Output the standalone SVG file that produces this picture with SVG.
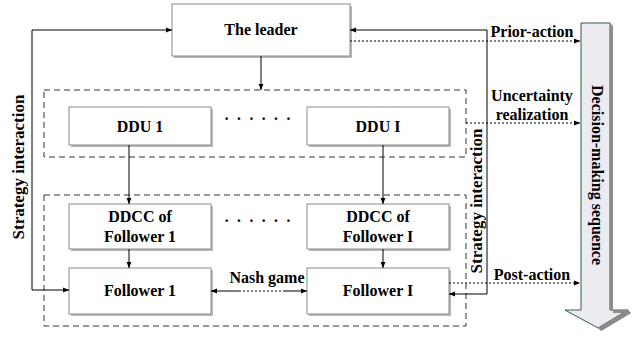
<svg xmlns="http://www.w3.org/2000/svg" width="644" height="337" viewBox="0 0 644 337">
<style>
.t{font-family:"Liberation Serif","Times New Roman",serif;font-weight:bold;font-size:16px;fill:#000;text-anchor:middle}
.box{fill:#fff;stroke:#8a8a8a;stroke-width:1}
.sh{fill:#b8b8b8}
.dash{fill:none;stroke:#333;stroke-width:1;stroke-dasharray:6,4}
.ln{fill:none;stroke:#000;stroke-width:1}
.dot{fill:none;stroke:#000;stroke-width:1;stroke-dasharray:2,2}
</style>
<defs>
<marker id="ah" viewBox="0 0 10 10" refX="10" refY="5" markerWidth="6" markerHeight="6" orient="auto-start-reverse" markerUnits="userSpaceOnUse">
<path d="M0,1 L10,5 L0,9 z" fill="#000"/>
</marker>
</defs>
<rect width="644" height="337" fill="#fff"/>
<g id="groups">
<rect class="dash" x="44" y="90" width="422" height="67"/>
<rect class="dash" x="44" y="195" width="422" height="131"/>
</g>
<g id="leader">
<rect class="sh" x="174" y="6" width="178" height="52"/>
<rect class="box" x="172" y="4" width="178" height="52"/>
<text class="t" x="261" y="35">The leader</text>
</g>
<g id="ddu1">
<rect class="sh" x="71" y="109" width="142" height="38"/>
<rect class="box" x="69" y="107" width="142" height="38"/>
<text class="t" x="140" y="132">DDU 1</text>
</g>
<g id="dduI">
<rect class="sh" x="309" y="109" width="142" height="38"/>
<rect class="box" x="307" y="107" width="142" height="38"/>
<text class="t" x="378" y="132">DDU I</text>
</g>
<g id="ddcc1">
<rect class="sh" x="71" y="206" width="142" height="45"/>
<rect class="box" x="69" y="204" width="142" height="45"/>
<text class="t" x="140" y="222">DDCC of</text>
<text class="t" x="140" y="242">Follower 1</text>
</g>
<g id="ddccI">
<rect class="sh" x="309" y="206" width="142" height="45"/>
<rect class="box" x="307" y="204" width="142" height="45"/>
<text class="t" x="378" y="222">DDCC of</text>
<text class="t" x="378" y="242">Follower I</text>
</g>
<g id="follower1">
<rect class="sh" x="71" y="270" width="142" height="46"/>
<rect class="box" x="69" y="268" width="142" height="46"/>
<text class="t" x="140" y="296">Follower 1</text>
</g>
<g id="followerI">
<rect class="sh" x="309" y="270" width="142" height="46"/>
<rect class="box" x="307" y="268" width="142" height="46"/>
<text class="t" x="378" y="296">Follower I</text>
</g>
<g id="dots">
<text class="t" x="261" y="124" letter-spacing="7">······</text>
<text class="t" x="261" y="226" letter-spacing="7">······</text>
</g>
<g id="sequence-arrow">
<path d="M584,26 L613,26 L613,313 L631,313 L601,331 L610,313 Z" fill="#8c8c8c"/>
<path d="M581,23 L610,23 L610,310 L628,310 L598,328 L565,310 L581,310 Z" fill="#ecebf2" stroke="#2f5f3c" stroke-width="1"/>
<path d="M610,23 L613,26 L613,313 L631,313 L628,310 L610,310 Z" fill="#8c8c8c"/>
<path d="M628,310 L631,313 L601,331 L598,328 Z" fill="#8c8c8c"/>
<text class="t" x="0" y="0" transform="translate(592,175) rotate(90)">Decision-making sequence</text>
</g>
<g id="connectors">
<path class="ln" d="M261,56 V90" marker-end="url(#ah)"/>
<path class="ln" d="M129,145 V204" marker-end="url(#ah)"/>
<path class="ln" d="M383,145 V204" marker-end="url(#ah)"/>
<path class="ln" d="M129,249 V268" marker-end="url(#ah)"/>
<path class="ln" d="M383,249 V268" marker-end="url(#ah)"/>
<path class="ln" d="M32,290 V30 H172" marker-end="url(#ah)"/>
<path class="ln" d="M32,290 H69" marker-end="url(#ah)"/>
<path class="ln" d="M487,294 V30 H350" marker-end="url(#ah)"/>
<path class="ln" d="M487,294 H449" marker-end="url(#ah)"/>
<path class="ln" d="M211,291 H239" marker-start="url(#ah)"/>
<path class="dot" d="M239,291 H285"/>
<path class="ln" d="M285,291 H307" marker-end="url(#ah)"/>
<path class="dot" d="M350,41 H580" marker-end="url(#ah)"/>
<path class="dot" d="M466,123 H580" marker-end="url(#ah)"/>
<path class="dot" d="M449,283 H580" marker-end="url(#ah)"/>
</g>
<g id="labels">
<text class="t" x="532" y="37">Prior-action</text>
<text class="t" x="532" y="101">Uncertainty</text>
<text class="t" x="532" y="120">realization</text>
<text class="t" x="532" y="280">Post-action</text>
<text class="t" x="267" y="283">Nash game</text>
<text class="t" style="font-size:17px" transform="translate(24,167) rotate(-90)">Strategy interaction</text>
<text class="t" style="font-size:17px" transform="translate(482,201) rotate(-90)">Strategy interaction</text>
</g>
</svg>
